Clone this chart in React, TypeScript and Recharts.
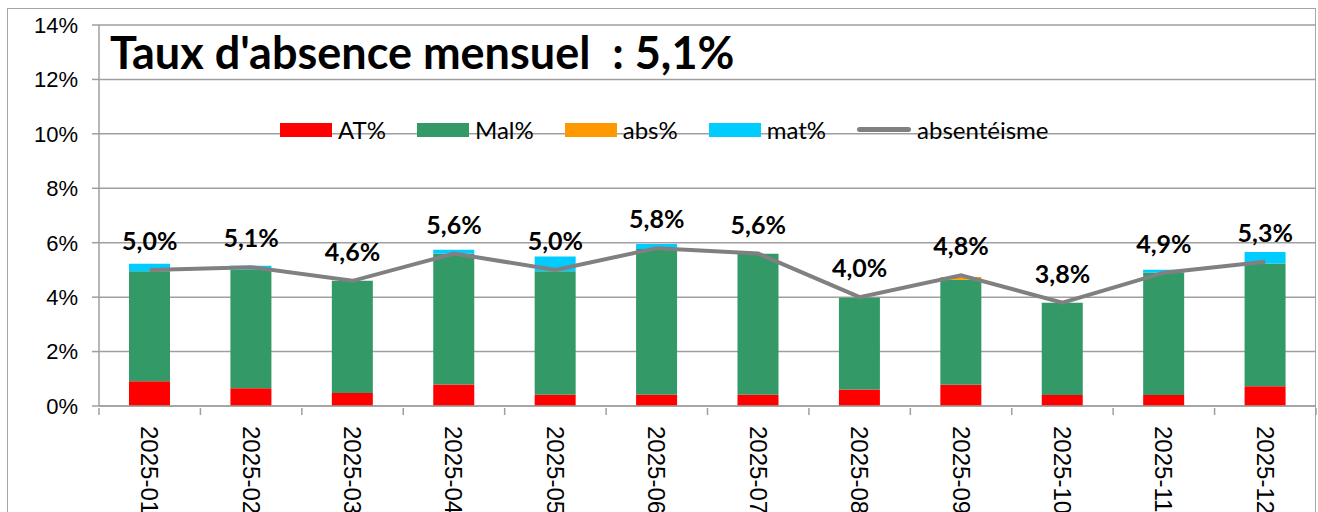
import React from "react";
import { Bar, CartesianGrid, ComposedChart, LabelList, Legend, Line, XAxis, YAxis } from "recharts";

const months = ["2025-01", "2025-02", "2025-03", "2025-04", "2025-05", "2025-06", "2025-07", "2025-08", "2025-09", "2025-10", "2025-11", "2025-12"];
const atPct = [0.91, 0.65, 0.48, 0.79, 0.41, 0.41, 0.41, 0.61, 0.78, 0.4, 0.4, 0.73];
const malPct = [4.04, 4.36, 4.12, 4.81, 4.54, 5.36, 5.18, 3.37, 3.86, 3.39, 4.51, 4.51];
const absPct = [0, 0, 0, 0, 0, 0, 0, 0, 0.1, 0, 0, 0];
const matPct = [0.28, 0.14, 0, 0.14, 0.54, 0.18, 0, 0, 0, 0, 0.1, 0.42];
const absenteisme = [5.0, 5.1, 4.6, 5.6, 5.0, 5.8, 5.6, 4.0, 4.8, 3.8, 4.9, 5.3];
const yTicks = [0, 2, 4, 6, 8, 10, 12, 14];
const legendOrder = ["AT%", "Mal%", "abs%", "mat%", "absentéisme"];

const data = months.map((m, i) => ({
  month: m,
  at: atPct[i],
  mal: malPct[i],
  abs: absPct[i],
  mat: matPct[i],
  absent: absenteisme[i],
}));

const W = 1318;
const H = 512;
const LEFT = 99;
const RIGHT = 2;
const HALF_BAND = (W - LEFT - RIGHT) / months.length / 2;
const AXIS = "#9f9f9f";
const CALIBRI = "Lato, 'Noto Sans', sans-serif";
const ARIAL = "'Liberation Sans', Arial, sans-serif";

const MonthTick = (props: any) => {
  const { x, y, payload, index } = props;
  return (
    <g>
      <line x1={x - HALF_BAND} x2={x - HALF_BAND} y1={y} y2={y + 7} stroke={AXIS} strokeWidth={1.5} />
      {index === months.length - 1 && (
        <line x1={x + HALF_BAND} x2={x + HALF_BAND} y1={y} y2={y + 7} stroke={AXIS} strokeWidth={1.5} />
      )}
      <text
        transform={`translate(${x},${y + 18}) rotate(90)`}
        textAnchor="start"
        dominantBaseline="central"
        fontSize={24}
        fontFamily={ARIAL}
        fill="#000"
      >
        {payload.value}
      </text>
    </g>
  );
};

const LegendBox = (props: any) => {
  const items = [...(props.payload || [])].sort(
    (a: any, b: any) => legendOrder.indexOf(a.value) - legendOrder.indexOf(b.value)
  );
  return (
    <div style={{ display: "flex", alignItems: "center", fontFamily: CALIBRI, fontSize: 24, color: "#000", whiteSpace: "nowrap" }}>
      {items.map((it: any) => (
        <div key={it.value} style={{ display: "flex", alignItems: "center", marginRight: 31 }}>
          {it.type === "line" ? (
            <span style={{ display: "inline-block", width: 54, height: 5, borderRadius: 3, background: it.color }} />
          ) : (
            <span style={{ display: "inline-block", width: 52, height: 14, background: it.color }} />
          )}
          <span style={{ marginLeft: 6 }}>{it.value}</span>
        </div>
      ))}
    </div>
  );
};

const fmt = (v: any) => `${Number(v).toFixed(1).replace(".", ",")}%`;

export default function App() {
  return (
    <div style={{ position: "relative", width: W, height: H, background: "#fff", overflow: "hidden" }}>
      <style>{`body{margin:0;overflow:hidden;background:#fff}`}</style>
      <div
        style={{
          position: "absolute",
          left: 7,
          top: 8,
          width: W - 7 - 2,
          height: 600,
          border: "1px solid #a6a6a6",
          boxSizing: "border-box",
        }}
      />
      <ComposedChart
        width={W}
        height={H}
        data={data}
        margin={{ top: 25, right: RIGHT, bottom: 0, left: 0 }}
        barSize={41}
        style={{ position: "absolute", left: 0, top: 0 }}
      >
        <CartesianGrid vertical={false} stroke={AXIS} strokeWidth={1.5} />
        <XAxis
          dataKey="month"
          height={106}
          interval={0}
          tick={<MonthTick />}
          tickLine={false}
          tickSize={0}
          axisLine={{ stroke: AXIS, strokeWidth: 1.5 }}
        />
        <YAxis
          width={LEFT}
          domain={[0, 14]}
          ticks={yTicks}
          tickFormatter={(v: number) => `${v}%`}
          tick={{ fontSize: 22, fontFamily: ARIAL, fill: "#000" }}
          tickLine={{ stroke: AXIS, strokeWidth: 1.5 }}
          tickSize={7}
          tickMargin={14}
          axisLine={{ stroke: AXIS, strokeWidth: 1.5 }}
        />
        <Legend
          verticalAlign="middle"
          align="center"
          content={<LegendBox />}
          wrapperStyle={{ position: "absolute", top: 115, left: 280, width: "auto" }}
        />
        <Bar dataKey="at" name="AT%" stackId="s" fill="#ff0000" isAnimationActive={false} />
        <Bar dataKey="mal" name="Mal%" stackId="s" fill="#339966" isAnimationActive={false} />
        <Bar dataKey="abs" name="abs%" stackId="s" fill="#ff9900" isAnimationActive={false} />
        <Bar dataKey="mat" name="mat%" stackId="s" fill="#00ccff" isAnimationActive={false} />
        <Line
          type="linear"
          dataKey="absent"
          name="absentéisme"
          stroke="#808080"
          strokeWidth={4}
          dot={false}
          legendType="line"
          isAnimationActive={false}
        >
          <LabelList
            dataKey="absent"
            position="top"
            offset={20}
            formatter={fmt}
            style={{ fontSize: 25, fontWeight: 700, fontFamily: CALIBRI, fill: "#000" }}
          />
        </Line>
      </ComposedChart>
      <div
        style={{
          position: "absolute",
          left: 110,
          top: 25,
          fontFamily: CALIBRI,
          fontWeight: 700,
          fontSize: 45,
          lineHeight: "54px",
          color: "#000",
          whiteSpace: "pre",
        }}
      >
        {"Taux d'absence mensuel  : 5,1%"}
      </div>
    </div>
  );
}
